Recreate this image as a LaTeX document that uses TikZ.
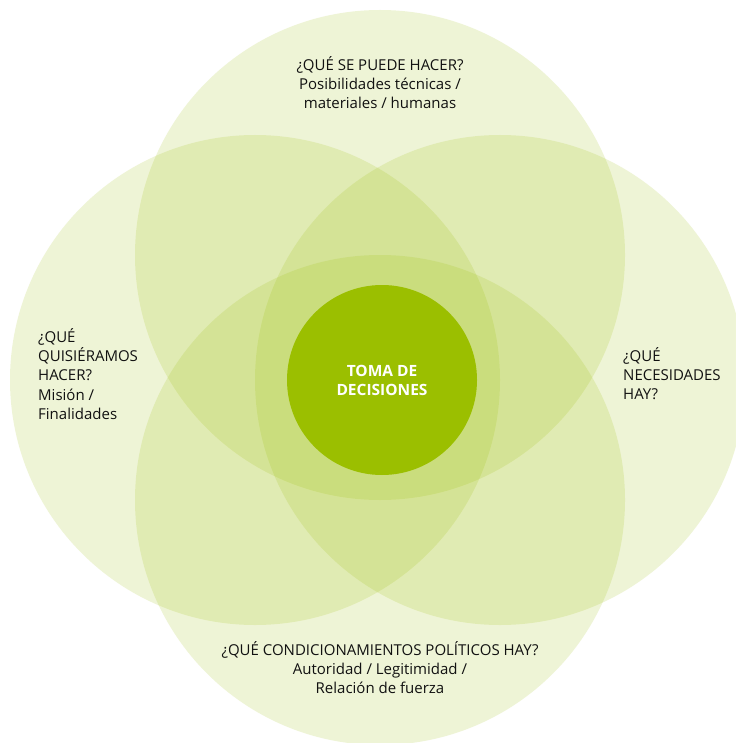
\documentclass[tikz,border=0pt]{standalone}
\usepackage{fontspec}
\setmainfont{Open Sans}
\definecolor{leaf}{HTML}{9BBF00}
\definecolor{ink}{HTML}{111111}
\begin{document}
\begin{tikzpicture}[x=1pt,y=-1pt,
  petal/.style={fill=leaf,fill opacity=0.16,draw=none},
  lbl/.style={font=\fontsize{15}{19.3}\selectfont,text=ink,inner sep=0pt},
  core/.style={circle,fill=leaf,draw=none,minimum size=190pt,inner sep=0pt,
    text=white,align=center,font=\bfseries\fontsize{15.5}{19}\selectfont}]
\useasboundingbox[fill=white] (0,0) rectangle (735,743);
\fill[petal] (380,255) circle[radius=245];
\fill[petal] (255,380) circle[radius=245];
\fill[petal] (500,380) circle[radius=245];
\fill[petal] (380,500) circle[radius=245];
\node[core] (c) at (382,380) {TOMA DE\\DECISIONES};
\node[lbl,align=center,anchor=north] (t) at (380,56) {¿QUÉ SE PUEDE HACER?\\Posibilidades técnicas /\\materiales / humanas};
\node[lbl,align=left,anchor=north west] (l) at (38,328) {¿QUÉ\\QUISIÉRAMOS\\HACER?\\Misión /\\Finalidades};
\node[lbl,align=left,anchor=north west] (r) at (623,347) {¿QUÉ\\NECESIDADES\\HAY?};
\node[lbl,align=center,anchor=north] (b) at (380,641) {¿QUÉ CONDICIONAMIENTOS POLÍTICOS HAY?\\Autoridad / Legitimidad /\\Relación de fuerza};
\end{tikzpicture}
\end{document}
